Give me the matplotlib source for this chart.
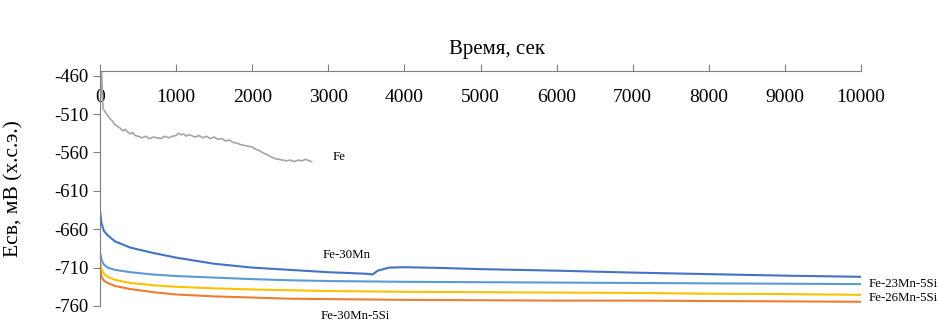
import matplotlib
matplotlib.use("Agg")
import matplotlib.pyplot as plt

plt.rcParams['font.family'] = ['Liberation Serif', 'DejaVu Serif']
plt.rcParams['axes.unicode_minus'] = False

fe_t = [0, 20, 40, 60, 80, 100, 130, 160, 200, 230, 260, 300, 330, 360, 400, 430, 460, 500,
        550, 600, 650, 700, 750, 800, 850, 900, 950, 1000, 1030, 1060, 1100, 1130, 1160,
        1200, 1250, 1300, 1350, 1400, 1450, 1500, 1550, 1600, 1650, 1700, 1750, 1800, 1850,
        1900, 1950, 2000, 2050, 2100, 2150, 2200, 2250, 2300, 2350, 2400, 2450, 2500, 2550,
        2600, 2650, 2700, 2750, 2780]
fe_v = [-500, -454, -503, -506, -509, -512, -516, -519, -524, -526, -528, -532, -530, -533,
        -536, -534, -538, -539, -541, -539, -542, -540, -541, -542, -539, -541, -539, -538,
        -535, -537, -536, -539, -537, -538, -540, -538, -541, -539, -542, -540, -543, -542,
        -545, -544, -547, -548, -550, -551, -552, -553, -556, -558, -561, -563, -566, -568,
        -569, -570, -571, -570, -572, -570, -571, -569, -571, -572]

mn30_t = [0, 20, 50, 100, 200, 400, 700, 1000, 1500, 2000, 2500, 3000, 3500, 3580, 3650,
          3800, 4000, 4500, 5000, 6000, 7000, 8000, 9000, 10000]
mn30_v = [-636, -652, -662, -668, -676, -684, -691, -697, -705, -710, -713, -716, -718,
          -719, -714, -710, -709.5, -710.5, -712, -714, -716.5, -718.5, -720.5, -722]

common_t = [0, 20, 50, 100, 200, 400, 700, 1000, 1500, 2000, 2500, 3000, 4000, 5000, 6000,
            7000, 8000, 9000, 10000]
mn23si_v = [-690, -700, -706, -710, -713, -716, -719, -721, -723, -725, -726.5, -727.5,
            -728.5, -729, -729.5, -730, -730.5, -731, -731.5]
mn26si_v = [-700, -712, -718, -722, -726, -730, -733, -735, -737, -738.5, -739.5, -740.5,
            -741.5, -742, -742.5, -743, -744, -744.5, -745.5]
mn30si_v = [-712, -722, -727, -730, -734, -738, -742, -745, -747.5, -749, -750.5, -751,
            -752, -752.5, -753, -753, -753.5, -754, -754.5]

x_ticks = [0, 1000, 2000, 3000, 4000, 5000, 6000, 7000, 8000, 9000, 10000]
y_ticks = [-460, -510, -560, -610, -660, -710, -760]

fig = plt.figure(figsize=(9.39, 3.22), dpi=100)
ax = fig.add_axes([0.1065, 0.0497, 0.8105, 0.7298])

lw = 1.5
ax.plot(fe_t, fe_v, color='#A5A5A5', lw=1.2)
ax.plot(mn30_t, mn30_v, color='#4472C4', lw=lw)
ax.plot(common_t, mn23si_v, color='#5B9BD5', lw=lw)
ax.plot(common_t, mn26si_v, color='#FFC000', lw=lw)
ax.plot(common_t, mn30si_v, color='#ED7D31', lw=lw)

ax.set_xlim(0, 10000)
ax.set_ylim(-760, -454)
ax.set_xticks(x_ticks)
ax.set_yticks(y_ticks)
ax.xaxis.tick_top()
ax.xaxis.set_label_position('top')
ax.tick_params(axis='x', direction='out', length=5, pad=-30, labelsize=14)
ax.tick_params(axis='y', direction='out', length=5, labelsize=13.5)
for s in ['right', 'bottom']:
    ax.spines[s].set_visible(False)
for s in ['left', 'top']:
    ax.spines[s].set_color('#7f7f7f')
ax.tick_params(colors='#7f7f7f', labelcolor='black')

ax.set_xlabel('Время, сек', fontsize=15)
ax.xaxis.set_label_coords(0.521, 1.072)
ax.set_ylabel('Есв, мВ (х.с.э.)', fontsize=15.5)
ax.yaxis.set_label_coords(-0.1, 0.5)

fs = 9.3
ax.text(3050, -566, 'Fe', fontsize=fs, va='center')
ax.text(2920, -693, 'Fe-30Mn', fontsize=fs, va='center')
ax.text(10100, -731, 'Fe-23Mn-5Si', fontsize=fs, va='center', clip_on=False)
ax.text(10100, -749.5, 'Fe-26Mn-5Si', fontsize=fs, va='center', clip_on=False)
ax.text(2900, -772.5, 'Fe-30Mn-5Si', fontsize=fs, va='center', clip_on=False)

fig.savefig('out.png', dpi=100)
